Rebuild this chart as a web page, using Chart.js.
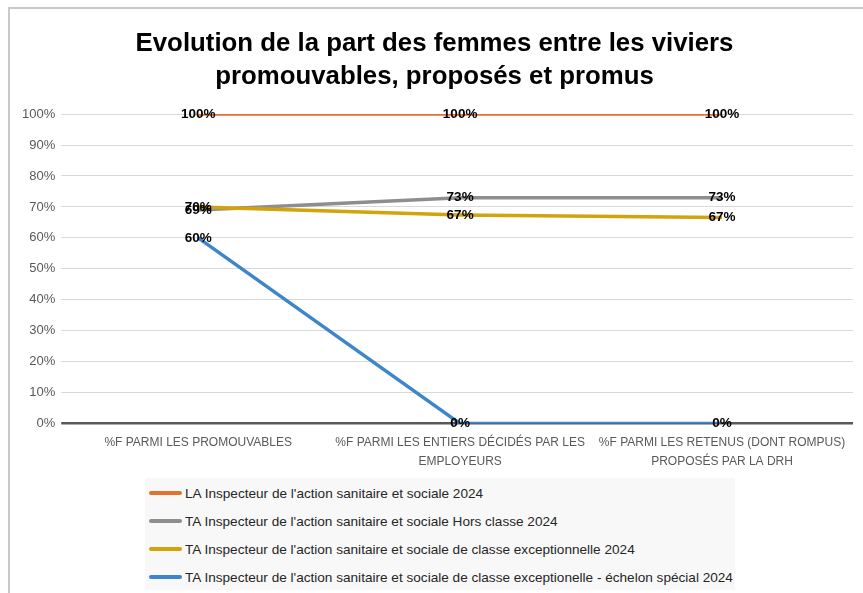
<!DOCTYPE html>
<html>
<head>
<meta charset="utf-8">
<script src="https://cdn.jsdelivr.net/npm/chart.js@4/dist/chart.umd.min.js"></script>
<style>
  html, body { margin: 0; padding: 0; background: #fff; }
  body { width: 863px; height: 593px; position: relative; overflow: hidden; font-family: "Liberation Sans", Arial, sans-serif; }
  #frame { position: absolute; left: 8px; top: 7px; width: 900px; height: 640px; border: 2px solid #c9c9c9; }
  #wrap { position: absolute; left: 0; top: 0; width: 863px; height: 593px; }
  #legend { position: absolute; left: 145px; top: 478px; width: 590px; height: 112px; background: #f8f8f8; }
  .item { position: absolute; left: 4px; height: 20px; display: flex; align-items: center; font-size: 13.6px; color: #262626; white-space: nowrap; }
  .swatch { width: 33px; height: 3.5px; border-radius: 2px; margin-right: 3px; }
</style>
</head>
<body>
<div id="frame"></div>
<div id="wrap"><canvas id="chart" width="863" height="593"></canvas></div>
<div id="legend"></div>
<script>
const categories = [
  '%F PARMI LES PROMOUVABLES',
  ['%F PARMI LES ENTIERS DÉCIDÉS PAR LES', 'EMPLOYEURS'],
  ['%F PARMI LES RETENUS (DONT ROMPUS)', 'PROPOSÉS PAR LA DRH']
];
const seriesNames = [
  "LA Inspecteur de l'action sanitaire et sociale 2024",
  "TA Inspecteur de l'action sanitaire et sociale Hors classe 2024",
  "TA Inspecteur de l'action sanitaire et sociale de classe exceptionnelle 2024",
  "TA Inspecteur de l'action sanitaire et sociale de classe exceptionelle - échelon spécial 2024"
];
const laValues = [100, 100, 100];
const horsClasseValues = [69, 73, 73];
const exceptionnelleValues = [70, 67.4, 66.6];
const echelonSpecialValues = [60, 0, 0];
const yTicks = [0, 10, 20, 30, 40, 50, 60, 70, 80, 90, 100];

const colors = ['#E2722C', '#8E8E8E', '#D2A30B', '#3D86CB'];
const allValues = [laValues, horsClasseValues, exceptionnelleValues, echelonSpecialValues];

// etiquettes de valeur au centre de chaque point
const valueLabels = {
  id: 'valueLabels',
  afterDatasetsDraw(chart) {
    const ctx = chart.ctx;
    ctx.save();
    ctx.font = 'bold 13.5px "Liberation Sans", Arial, sans-serif';
    ctx.fillStyle = '#000';
    ctx.textAlign = 'center';
    ctx.textBaseline = 'middle';
    chart.data.datasets.forEach((ds, i) => {
      chart.getDatasetMeta(i).data.forEach((pt, j) => {
        ctx.fillText(Math.round(ds.data[j]) + '%', pt.x, pt.y);
      });
    });
    ctx.restore();
  }
};

const chart = new Chart(document.getElementById('chart'), {
  type: 'line',
  data: {
    labels: categories,
    datasets: allValues.map((vals, i) => ({
      label: seriesNames[i],
      data: vals,
      borderColor: colors[i],
      backgroundColor: colors[i],
      borderWidth: 3.5,
      pointRadius: 0,
      tension: 0,
      order: 4 - i
    }))
  },
  options: {
    responsive: false,
    animation: false,
    layout: { padding: { left: 16, right: 10, top: 17, bottom: 121 } },
    plugins: {
      legend: { display: false },
      tooltip: { enabled: false },
      title: {
        display: true,
        text: ['Evolution de la part des femmes entre les viviers', 'promouvables, proposés et promus'],
        color: '#000',
        font: { family: '"Liberation Sans", Arial, sans-serif', size: 25.8, weight: 'bold', lineHeight: 1.3 },
        padding: { top: 10, bottom: 20 }
      }
    },
    scales: {
      x: {
        offset: true,
        grid: { display: false },
        border: { display: false },
        ticks: {
          color: '#595959',
          font: { family: '"Liberation Sans", Arial, sans-serif', size: 12, lineHeight: 1.6 },
          padding: 1,
          maxRotation: 0,
          autoSkip: false
        }
      },
      y: {
        min: 0,
        max: 100,
        afterBuildTicks(axis) { axis.ticks = yTicks.map(v => ({ value: v })); },
        grid: {
          color: (c) => c.tick && c.tick.value === 0 ? '#595959' : '#d9d9d9',
          lineWidth: (c) => c.tick && c.tick.value === 0 ? 2.5 : 1,
          tickLength: 6
        },
        border: { display: false },
        ticks: {
          color: '#595959',
          font: { family: '"Liberation Sans", Arial, sans-serif', size: 13 },
          padding: 6,
          callback: (v) => v + '%'
        }
      }
    }
  },
  plugins: [valueLabels]
});

// legende html, construite depuis les datasets
const legend = document.getElementById('legend');
chart.data.datasets.forEach((ds, i) => {
  const item = document.createElement('div');
  item.className = 'item';
  item.style.top = (5 + i * 28) + 'px';
  item.innerHTML = '<span class="swatch" style="background:' + ds.borderColor + '"></span>' + ds.label;
  legend.appendChild(item);
});
</script>
</body>
</html>
